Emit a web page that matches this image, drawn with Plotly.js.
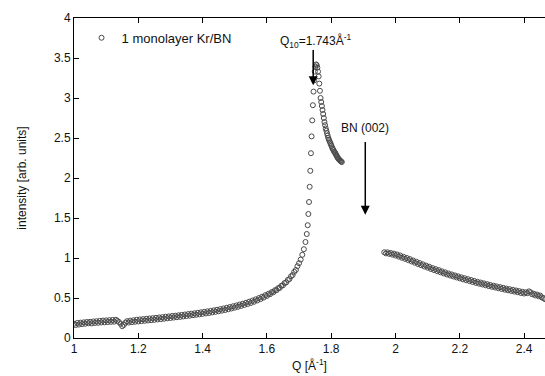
<!DOCTYPE html>
<html>
<head>
<meta charset="utf-8">
<script src="https://cdn.plot.ly/plotly-3.0.1.min.js"></script>
<style>html,body{margin:0;padding:0;background:#fff;}#chart{width:545px;height:376px;}</style>
</head>
<body>
<div id="chart"></div>
<script>
// Low-Q background (Q in 1/Å)
const qLow = [1.000,1.005,1.010,1.015,1.020,1.025,1.030,1.035,1.040,1.045,1.050,1.055,1.060,1.065,1.070,1.075,1.080,1.085,1.090,1.095,
1.100,1.105,1.110,1.115,1.120,1.125,1.130,1.135,1.140,1.145,1.150,1.155,1.160,1.165,1.170,1.175,1.180,1.185,1.190,1.195,
1.200,1.205,1.210,1.215,1.220,1.225,1.230,1.235,1.240,1.245,1.250,1.255,1.260,1.265,1.270,1.275,1.280,1.285,1.290,1.295,
1.300,1.305,1.310,1.315,1.320,1.325,1.330,1.335,1.340,1.345,1.350,1.355,1.360,1.365,1.370,1.375,1.380,1.385,1.390,1.395,
1.400,1.405,1.410,1.415,1.420,1.425,1.430,1.435,1.440,1.445,1.450,1.455,1.460,1.465,1.470,1.475,1.480,1.485,1.490,1.495,
1.500,1.505,1.510,1.515,1.520,1.525,1.530,1.535,1.540,1.545,1.550,1.555,1.560,1.565,1.570,1.575,1.580,1.585,1.590,1.595,
1.600,1.605,1.610,1.615,1.620,1.625,1.630,1.635,1.640,1.645,1.650,1.655,1.660,1.665,1.670,1.675,1.680,1.685,1.690,1.695,1.700];
const iLow = [0.178,0.162,0.188,0.168,0.192,0.174,0.196,0.178,0.200,0.184,0.202,0.182,0.207,0.188,0.210,0.190,0.214,0.194,0.218,0.196,
0.220,0.199,0.223,0.202,0.226,0.204,0.228,0.214,0.200,0.178,0.148,0.164,0.192,0.210,0.193,0.217,0.198,0.222,0.203,0.228,
0.207,0.232,0.211,0.236,0.215,0.240,0.219,0.244,0.223,0.248,0.227,0.252,0.232,0.257,0.236,0.261,0.241,0.266,0.246,0.270,
0.250,0.275,0.255,0.279,0.260,0.284,0.264,0.289,0.269,0.294,0.274,0.299,0.279,0.304,0.285,0.309,0.290,0.315,0.295,0.321,
0.301,0.327,0.307,0.333,0.313,0.339,0.320,0.346,0.327,0.353,0.334,0.361,0.342,0.369,0.350,0.378,0.359,0.387,0.369,0.397,
0.379,0.407,0.390,0.418,0.401,0.429,0.413,0.441,0.425,0.454,0.438,0.468,0.453,0.483,0.469,0.499,0.486,0.516,0.505,0.535,
0.526,0.553,0.548,0.574,0.572,0.597,0.598,0.623,0.626,0.653,0.659,0.687,0.695,0.725,0.737,0.771,0.787,0.827,0.850,0.898,0.935];

// Kr monolayer (10) peak
const qPeak = [1.705,1.710,1.715,1.720,1.724,1.727,1.729,1.731,1.733,1.735,1.737,1.739,1.741,1.743,1.745,
1.747,1.749,1.751,1.753,1.755,1.757,1.759,1.761,1.763,1.765,1.767,1.769,1.771,1.773,1.775,1.777,1.779,1.781,1.783,1.785,
1.787,1.789,1.791,1.793,1.795,1.797,1.799,1.801,1.803,1.805,1.807,1.809,1.811,1.813,1.815,1.817,1.819,1.821,1.823,1.825,
1.827,1.829,1.831,1.833];
const iPeak = [0.98,1.04,1.11,1.20,1.30,1.41,1.55,1.70,1.89,2.09,2.31,2.52,2.72,2.91,3.08,
3.22,3.33,3.39,3.42,3.41,3.38,3.33,3.27,3.18,3.09,3.00,2.95,2.90,2.85,2.80,2.75,2.70,2.66,2.62,2.59,
2.56,2.53,2.50,2.48,2.46,2.44,2.42,2.40,2.38,2.36,2.35,2.33,2.32,2.31,2.29,2.28,2.26,2.25,2.24,2.23,
2.22,2.215,2.205,2.20];

// High-Q side, beyond BN (002)
const qHigh = [1.965,1.970,1.975,1.980,1.985,1.990,1.995,2.000,2.005,2.010,2.015,2.020,2.025,2.030,2.035,2.040,2.045,2.050,2.055,2.060,
2.065,2.070,2.075,2.080,2.085,2.090,2.095,2.100,2.105,2.110,2.115,2.120,2.125,2.130,2.135,2.140,2.145,2.150,2.155,2.160,
2.165,2.170,2.175,2.180,2.185,2.190,2.195,2.200,2.205,2.210,2.215,2.220,2.225,2.230,2.235,2.240,2.245,2.250,2.255,2.260,
2.265,2.270,2.275,2.280,2.285,2.290,2.295,2.300,2.305,2.310,2.315,2.320,2.325,2.330,2.335,2.340,2.345,2.350,2.355,2.360,
2.365,2.370,2.375,2.380,2.385,2.390,2.395,2.400,2.405,2.410,2.415,2.420,2.425,2.430,2.435,2.440,2.445,2.450,2.455,2.460,2.465];
const iHigh = [1.072,1.058,1.071,1.052,1.063,1.042,1.055,1.031,1.044,1.017,1.031,1.003,1.015,0.989,1.001,0.973,0.986,0.957,0.969,0.941,
0.953,0.925,0.938,0.909,0.921,0.893,0.906,0.879,0.891,0.863,0.875,0.849,0.861,0.835,0.848,0.821,0.833,0.807,0.820,0.793,
0.806,0.781,0.794,0.769,0.782,0.757,0.770,0.745,0.758,0.733,0.747,0.722,0.736,0.711,0.725,0.700,0.714,0.689,0.703,0.679,
0.693,0.669,0.683,0.659,0.673,0.649,0.663,0.640,0.654,0.631,0.645,0.622,0.636,0.613,0.627,0.604,0.618,0.596,0.610,0.588,
0.602,0.580,0.594,0.572,0.586,0.563,0.578,0.556,0.571,0.560,0.583,0.572,0.546,0.554,0.532,0.543,0.522,0.531,0.508,0.500,0.485];

const qAll = qLow.concat(qPeak, [null], qHigh);
const iAll = iLow.concat(iPeak, [null], iHigh);

const font = 'Liberation Sans, Arial, sans-serif';

const trace = {
  x: qAll, y: iAll, type: 'scatter', mode: 'markers',
  name: '1 monolayer Kr/BN',
  marker: {symbol: 'circle-open', size: 5, color: '#4a4a4a', line: {width: 1, color: '#4a4a4a'}}
};

const layout = {
  width: 545, height: 376,
  margin: {l: 74, r: 0, t: 18, b: 38},
  paper_bgcolor: '#fff', plot_bgcolor: '#fff',
  font: {family: font, size: 12, color: '#111'},
  showlegend: true,
  legend: {x: 0.016, y: 0.985, xanchor: 'left', yanchor: 'top', bgcolor: 'rgba(0,0,0,0)',
           font: {family: font, size: 13, color: '#111'}, itemwidth: 30, tracegroupgap: 0},
  xaxis: {
    range: [1, 2.465], tickvals: [1,1.2,1.4,1.6,1.8,2,2.2,2.4],
    ticktext: ['1','1.2','1.4','1.6','1.8','2','2.2','2.4'],
    ticks: 'inside', ticklen: 5, tickcolor: '#000',
    showline: true, linecolor: '#000', linewidth: 1, mirror: 'ticks',
    showgrid: false, zeroline: false,
    tickfont: {family: font, size: 12, color: '#111'},
    title: {text: 'Q [Å<sup>-1</sup>]', font: {family: font, size: 12, color: '#111'}, standoff: 6}
  },
  yaxis: {
    range: [0, 4], tickvals: [0,0.5,1,1.5,2,2.5,3,3.5,4],
    ticktext: ['0','0.5','1','1.5','2','2.5','3','3.5','4'],
    ticks: 'inside', ticklen: 5, tickcolor: '#000',
    showline: true, linecolor: '#000', linewidth: 1, mirror: false,
    showgrid: false, zeroline: false,
    tickfont: {family: font, size: 12, color: '#111'},
    title: {text: 'intensity [arb. units]', font: {family: font, size: 12, color: '#111'}, standoff: 24}
  },
  annotations: [
    {x: 1.753, y: 3.71, xref: 'x', yref: 'y', showarrow: false,
     text: 'Q<sub>10</sub>=1.743Å<sup>-1</sup>', font: {family: font, size: 12, color: '#111'}},
    {x: 1.744, y: 3.16, ax: 1.744, ay: 3.62, xref: 'x', yref: 'y', axref: 'x', ayref: 'y',
     showarrow: true, arrowhead: 2, arrowsize: 1.2, arrowwidth: 1.5, arrowcolor: '#000', text: ''},
    {x: 1.906, y: 2.625, xref: 'x', yref: 'y', showarrow: false,
     text: 'BN (002)', font: {family: font, size: 12, color: '#111'}},
    {x: 1.906, y: 1.54, ax: 1.906, ay: 2.47, xref: 'x', yref: 'y', axref: 'x', ayref: 'y',
     showarrow: true, arrowhead: 2, arrowsize: 1.2, arrowwidth: 1.5, arrowcolor: '#000', text: ''}
  ]
};

Plotly.newPlot('chart', [trace], layout, {displayModeBar: false, staticPlot: true});
</script>
</body>
</html>
